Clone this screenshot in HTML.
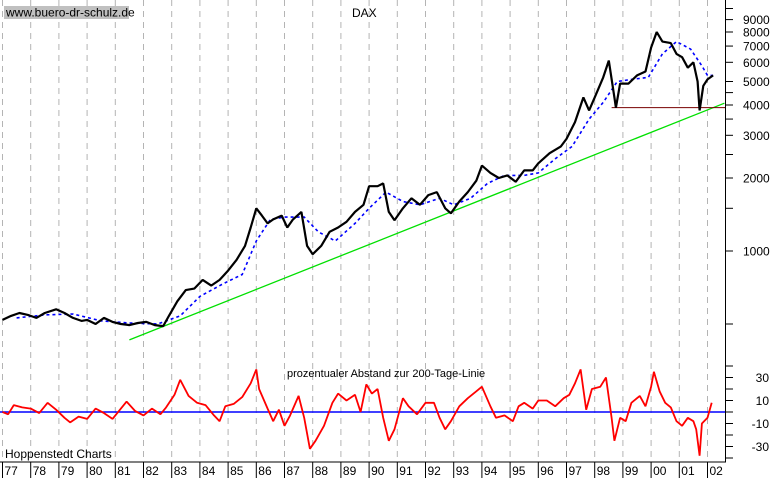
<!DOCTYPE html>
<html><head><meta charset="utf-8"><style>
body{margin:0;background:#fff}
svg{display:block;font-family:"Liberation Sans",sans-serif}
</style></head><body>
<svg id="c" width="773" height="478" viewBox="0 0 773 478" xmlns="http://www.w3.org/2000/svg">
<rect width="773" height="478" fill="#fff"/>
<g id="grid"></g>
<g id="marks"></g>
<g id="axes"></g>
<rect x="4" y="6" width="125" height="13" fill="#c0c0c0"/>
<text x="6" y="16.5" font-size="12">www.buero-dr-schulz.de</text>
<text x="352" y="17" font-size="12">DAX</text>
<text x="287" y="377" font-size="11">prozentualer Abstand zur 200-Tage-Linie</text>
<text x="5" y="458" font-size="12">Hoppenstedt Charts</text>
</svg>
<script>
const years=["77","78","79","80","81","82","83","84","85","86","87","88","89","90","91","92","93","94","95","96","97","98","99","00","01","02"];
const priceT=[1977.0,1977.3,1977.6,1977.9,1978.2,1978.5,1978.9,1979.2,1979.5,1979.8,1980.0,1980.3,1980.6,1980.9,1981.2,1981.5,1981.8,1982.1,1982.4,1982.7,1982.9,1983.2,1983.5,1983.8,1984.1,1984.4,1984.7,1985.0,1985.3,1985.6,1985.8,1986.0,1986.2,1986.4,1986.6,1986.9,1987.1,1987.3,1987.6,1987.8,1988.0,1988.3,1988.6,1988.9,1989.2,1989.5,1989.8,1990.0,1990.3,1990.5,1990.7,1990.9,1991.2,1991.5,1991.8,1992.1,1992.4,1992.7,1992.9,1993.2,1993.5,1993.8,1994.0,1994.3,1994.6,1994.9,1995.2,1995.5,1995.8,1996.0,1996.4,1996.8,1997.0,1997.3,1997.6,1997.8,1998.0,1998.3,1998.5,1998.7,1998.75,1998.9,1999.2,1999.5,1999.8,2000.0,2000.2,2000.4,2000.7,2000.9,2001.1,2001.3,2001.5,2001.65,2001.72,2001.85,2002.0,2002.2];
const priceV=[520,540,555,545,530,555,575,555,530,515,520,500,530,510,500,495,505,510,495,490,540,620,690,700,760,720,760,830,920,1050,1250,1500,1400,1300,1350,1400,1250,1350,1450,1050,970,1050,1200,1250,1320,1450,1550,1850,1850,1900,1450,1340,1500,1650,1550,1700,1750,1500,1430,1600,1750,1950,2250,2100,2000,2050,1930,2150,2150,2300,2530,2700,2900,3400,4300,3800,4300,5200,6100,4300,3900,4900,4900,5300,5500,6900,8000,7300,7200,6500,6300,5700,6000,5000,3800,4800,5100,5300];
const maT=[1977.5,1978.5,1979.5,1980.5,1981.5,1982.5,1983.3,1984.0,1984.8,1985.5,1986.0,1986.5,1987.0,1987.7,1988.2,1988.8,1989.5,1990.0,1990.6,1991.2,1991.8,1992.5,1993.0,1993.6,1994.2,1994.8,1995.5,1996.0,1996.6,1997.2,1997.8,1998.3,1998.8,1999.3,1999.9,2000.4,2000.9,2001.4,2001.8,2002.0,2002.2];
const maV=[530,545,550,515,505,500,540,650,730,800,1100,1350,1380,1380,1200,1100,1300,1500,1750,1600,1550,1650,1550,1650,1900,2050,2050,2100,2400,2700,3500,4100,5000,5100,5200,6500,7300,6800,5800,5300,5300];
const trendT=[1981.5,2002.6];
const trendV=[430,4070];
const supportT=[1998.6,2002.6];
const supportV=[3900,3900];
const devT=[1977.0,1977.2,1977.4,1977.7,1978.0,1978.3,1978.6,1978.9,1979.2,1979.4,1979.7,1980.0,1980.3,1980.6,1980.9,1981.2,1981.4,1981.7,1982.0,1982.3,1982.6,1982.8,1983.1,1983.3,1983.6,1983.9,1984.2,1984.5,1984.7,1984.9,1985.2,1985.5,1985.8,1986.0,1986.1,1986.4,1986.6,1986.8,1987.0,1987.2,1987.5,1987.7,1987.9,1988.1,1988.4,1988.7,1988.9,1989.2,1989.5,1989.7,1989.9,1990.1,1990.3,1990.5,1990.7,1990.9,1991.2,1991.4,1991.7,1992.0,1992.3,1992.5,1992.7,1992.9,1993.2,1993.5,1993.8,1994.0,1994.3,1994.5,1994.8,1995.1,1995.3,1995.5,1995.8,1996.0,1996.3,1996.6,1996.9,1997.1,1997.3,1997.5,1997.7,1997.9,1998.2,1998.4,1998.6,1998.7,1998.9,1999.1,1999.3,1999.6,1999.8,2000.0,2000.1,2000.3,2000.5,2000.7,2000.9,2001.1,2001.3,2001.5,2001.6,2001.72,2001.8,2002.0,2002.15];
const devV=[0,-2,6,4,3,-1,8,2,-5,-9,-4,-6,3,-1,-6,3,9,1,-3,3,-2,4,15,28,14,8,6,-3,-8,5,7,13,25,37,20,3,-8,2,-12,-3,14,-5,-32,-25,-12,8,16,10,15,0,24,16,20,-5,-25,-15,12,5,-2,8,8,-5,-15,-8,5,12,18,22,5,-5,-3,-8,5,8,3,10,10,5,12,15,25,37,2,20,22,30,-5,-25,-5,-8,8,14,5,22,35,18,8,4,-8,-12,-5,-8,-15,-38,-10,-5,8];
const priceTicks=[500,1000,1500,2000,2500,3000,3500,4000,4500,5000,6000,7000,8000,9000,10000];
const priceLabels=[1000,2000,3000,4000,5000,6000,7000,8000,9000];
const devTicks=[-40,-30,-20,-10,0,10,20,30,40];
const devLabels=[30,10,-10,-30];

const NS="http://www.w3.org/2000/svg";
const X=t=>2.5+(t-1977)*28.2;
const Y=v=>251-242.5*Math.log10(v/1000);
const YD=v=>412-v*1.15;
function mk(tag,attrs,parent){const e=document.createElementNS(NS,tag);for(const k in attrs)e.setAttribute(k,attrs[k]);document.getElementById(parent).appendChild(e);return e;}
function pts(T,V,fy){return T.map((t,i)=>X(t).toFixed(1)+","+fy(V[i]).toFixed(1)).join(" ");}

years.forEach((y,i)=>{
  const x=X(1977+i);
  const g=mk('line',{x1:x,y1:0,x2:x,y2:462,stroke:'#b4b4b4','stroke-dasharray':'6,5'},'grid');
  
  
  const tk=mk('line',{x1:x,y1:462,x2:x,y2:478,stroke:'#000'},'axes');
  
  
  const tx=mk('text',{x:x+2,y:475,'font-size':12},'axes');
  tx.textContent=y;
  
  
});

let e;
e=mk('line',{x1:X(trendT[0]),y1:Y(trendV[0]),x2:X(trendT[1]),y2:Y(trendV[1]),stroke:'#00e000','stroke-width':1.3},'marks');


e=mk('line',{x1:X(supportT[0]),y1:Y(supportV[0]),x2:725,y2:Y(supportV[1]),stroke:'#700','stroke-width':1},'marks');


e=mk('polyline',{points:pts(maT,maV,Y),fill:'none',stroke:'#0000ff','stroke-width':1.6,'stroke-dasharray':'3,3'},'marks');


e=mk('polyline',{points:pts(priceT,priceV,Y),fill:'none',stroke:'#000','stroke-width':2.2,'stroke-linejoin':'bevel'},'marks');


e=mk('line',{x1:0,y1:YD(0),x2:725,y2:YD(0),stroke:'#0000ff','stroke-width':1.5},'marks');


e=mk('polyline',{points:pts(devT,devV,YD),fill:'none',stroke:'#ff0000','stroke-width':1.8,'stroke-linejoin':'bevel'},'marks');



e=mk('line',{x1:725.5,y1:0,x2:725.5,y2:462,stroke:'#000'},'axes');


e=mk('line',{x1:0,y1:462,x2:726,y2:462,stroke:'#000'},'axes');


priceTicks.forEach(v=>{
  const t=mk('line',{x1:725,y1:Y(v),x2:733,y2:Y(v),stroke:'#000'},'axes');
  
  
});
priceLabels.forEach(v=>{
  const t=mk('text',{x:743,y:Y(v)+4.5,'font-size':12},'axes');
  t.textContent=v;
  
  
});
devTicks.forEach(v=>{
  const t=mk('line',{x1:725,y1:YD(v),x2:733,y2:YD(v),stroke:'#000'},'axes');
  
  
});
devLabels.forEach(v=>{
  const t=mk('text',{x:769,y:YD(v)+4.5,'font-size':12,'text-anchor':'end'},'axes');
  t.textContent=v;
  
  
});
</script>
</body></html>
